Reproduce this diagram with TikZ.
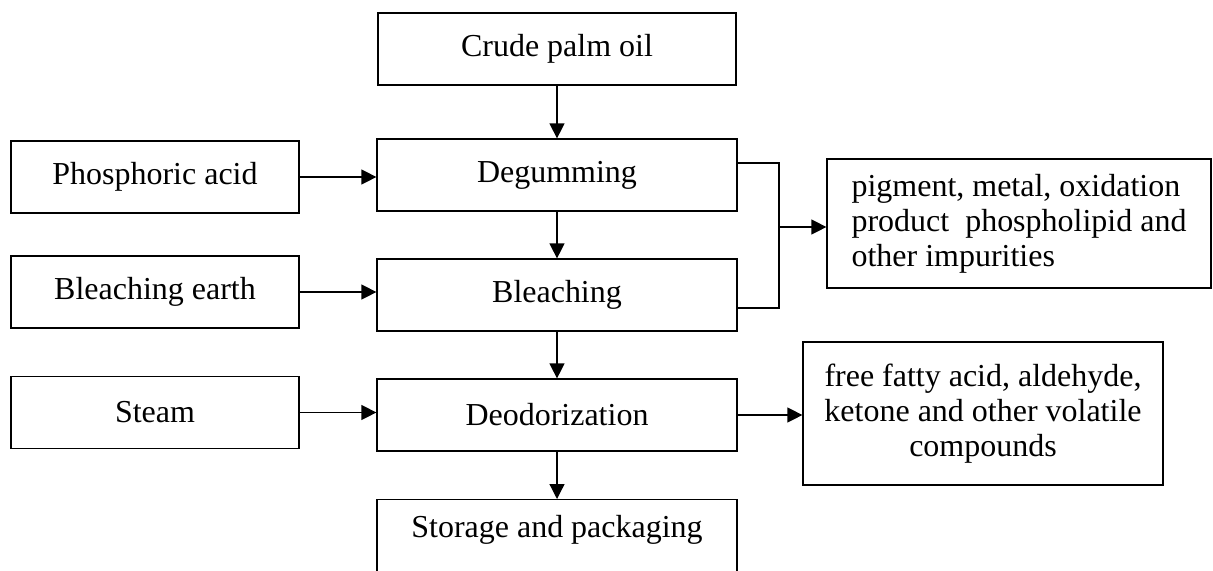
\documentclass[tikz,border=0pt]{standalone}
\usepackage{fontspec}
\setmainfont{Liberation Serif}
\usepackage{tikz}
\usetikzlibrary{arrows.meta,positioning}

\begin{document}
\begin{tikzpicture}[font=\fontsize{18.2}{19.9}\selectfont,
  box/.style={draw=black,minimum width=7.2cm,minimum height=1.44cm,
              align=center,line width=0.7pt,inner sep=2pt},
  side/.style={box,minimum width=5.76cm},
  waste/.style={box,inner sep=6pt},
  arr/.style={-{Triangle[length=3mm,width=3mm]},line width=0.7pt}]
\path[use as bounding box,clip] (0,0) rectangle (24.26,-11.4);
% main line
\node[box,minimum width=7.16cm] (crude) at (11.14,-0.98) {Crude palm oil};
\node[box] (degum)  at (11.14,-3.5) {Degumming};
\node[box] (bleach) at (11.14,-5.9) {Bleaching};
\node[box] (deodor) at (11.14,-8.3) {Deodorization};
\node[box,minimum height=2cm,anchor=north,
  label={[anchor=center,yshift=-0.62cm]north:Storage and packaging}] (store) at (11.14,-9.98) {};
% inputs
\node[side] (acid)  at (3.1,-3.54) {Phosphoric acid};
\node[side] (earth) at (3.1,-5.84) {Bleaching earth};
\node[side] (steam) at (3.1,-8.25) {Steam};
% by-products
\node[waste,minimum width=7.68cm,minimum height=2.58cm,align=left] (waste1) at (20.38,-4.47)
  {pigment, metal, oxidation\\product\ \ phospholipid and\\other impurities};
\node[waste,minimum height=2.86cm] (waste2) at (19.66,-8.27)
  {free fatty acid, aldehyde,\\ketone and other volatile\\compounds};
\coordinate (jn) at (15.58,-4.54);
\draw[arr] (crude) -- (degum);
\draw[arr] (degum) -- (bleach);
\draw[arr] (bleach) -- (deodor);
\draw[arr] (deodor) -- (store);
\draw[arr] (acid.east) -- (acid.east -| degum.west);
\draw[arr] (earth.east) -- (earth.east -| bleach.west);
\draw[arr] (steam.east) -- (steam.east -| deodor.west);
\draw[line width=0.7pt] ([yshift=0.24cm]degum.east) -| (jn);
\draw[line width=0.7pt] ([yshift=-0.26cm]bleach.east) -| (jn);
\draw[arr] (jn) -- (jn -| waste1.west);
\draw[arr] (deodor.east) -- (deodor.east -| waste2.west);
\end{tikzpicture}
\end{document}
